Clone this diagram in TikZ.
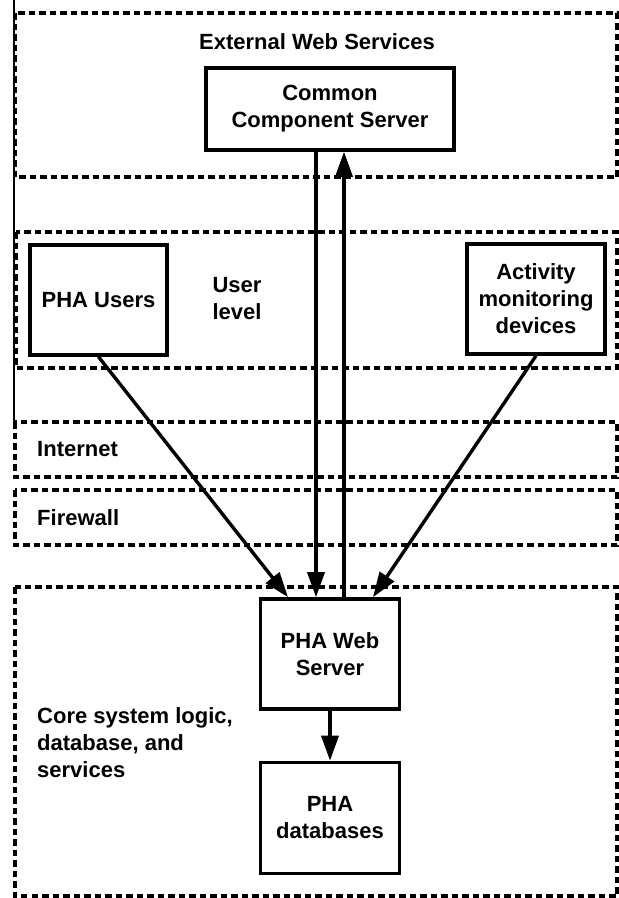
\documentclass[tikz,border=0pt]{standalone}
\usepackage{fontspec}
\setmainfont{Liberation Sans}
\usetikzlibrary{arrows.meta}

\begin{document}
\begin{tikzpicture}[line join=miter, x=1pt, y=-1pt,
    layer/.style={line width=3.2pt, dash pattern=on 6.5pt off 4pt},
    unit/.style={draw, line width=3.6pt, align=center, inner sep=0pt,
      font=\bfseries\fontsize{22}{27}\selectfont},
    tag/.style={align=left, inner sep=0pt, font=\bfseries\fontsize{22}{27}\selectfont},
    link/.style={line width=3.4pt, -{Triangle[length=25pt, width=17pt]}}]
\useasboundingbox (0,0) rectangle (619,898);
% edge of the scan
\draw[line width=1.2pt] (14,0) -- (14,422);
% layers
\draw[layer] (15,13) rectangle (617,177);
\draw[layer] (16,232) rectangle (617,368);
\draw[layer] (15,422) rectangle (617,477);
\draw[layer] (15,490) rectangle (617,545);
\draw[layer] (15,587) rectangle (617,896);
\node[tag] (ext) at (317,42) {External Web Services};
\node[tag, align=center] (ulev) at (237,299) {User\\level};
\node[tag, anchor=west] (inet) at (37,449) {Internet};
\node[tag, anchor=west] (fwall) at (37,518) {Firewall};
\node[tag, anchor=west] (core) at (37,743) {Core system logic,\\database, and\\services};
% boxes
\node[unit, minimum width=248, minimum height=82] (ccs) at (330,109) {Common\\Component Server};
\node[unit, minimum width=137, minimum height=110] (users) at (98.5,300) {PHA Users};
\node[unit, minimum width=138, minimum height=110] (amd) at (536,299) {Activity\\monitoring\\devices};
\node[unit, minimum width=139, minimum height=110] (pws) at (330,654) {PHA Web\\Server};
\node[unit, minimum width=139, minimum height=111] (db) at (330,818) {PHA\\databases};
% links
\draw[link] (users.south) -- ([xshift=-42pt]pws.north);
\draw[link] ([xshift=-14pt]ccs.south) -- ([xshift=-14pt]pws.north);
\draw[link] ([xshift=14pt]pws.north) -- ([xshift=14pt]ccs.south);
\draw[link] (amd.south) -- ([xshift=43pt]pws.north);
\draw[link] (pws.south) -- (db.north);
\end{tikzpicture}
\end{document}
